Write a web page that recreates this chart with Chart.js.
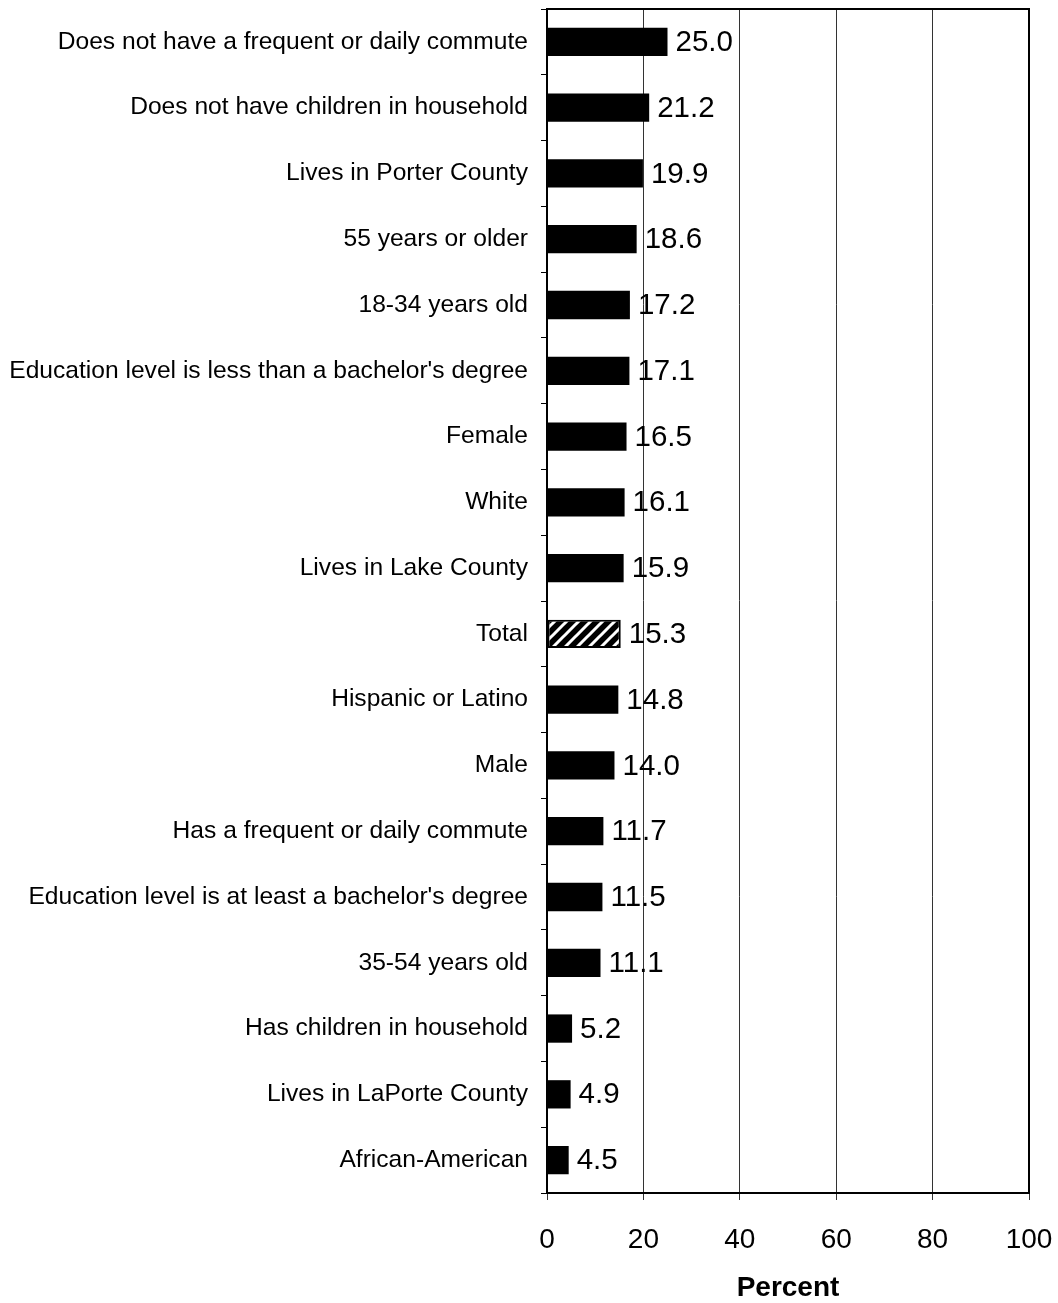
<!DOCTYPE html>
<html lang="en">
<head>
  <meta charset="UTF-8">
  <title>Percent by group</title>
  <script src="https://cdn.jsdelivr.net/npm/chart.js"></script>
  <style>
    body { margin: 0; background: #fff; }
    canvas { display: block; }
  </style>
</head>
<body>
  <canvas id="barChart" width="1058" height="1303"></canvas>

  <script>
    const categories = [
      'Does not have a frequent or daily commute',
      'Does not have children in household',
      'Lives in Porter County',
      '55 years or older',
      '18-34 years old',
      "Education level is less than a bachelor's degree",
      'Female',
      'White',
      'Lives in Lake County',
      'Total',
      'Hispanic or Latino',
      'Male',
      'Has a frequent or daily commute',
      "Education level is at least a bachelor's degree",
      '35-54 years old',
      'Has children in household',
      'Lives in LaPorte County',
      'African-American'
    ];
    const percents = [25.0, 21.2, 19.9, 18.6, 17.2, 17.1, 16.5, 16.1, 15.9, 15.3, 14.8, 14.0, 11.7, 11.5, 11.1, 5.2, 4.9, 4.5];
    const xTicks = [0, 20, 40, 60, 80, 100];
    const totalLabel = 'Total';

    const FONT = '"Liberation Sans", Arial, sans-serif';

    // white diagonal stripes on black for the Total bar
    function makeHatch() {
      const c = document.createElement('canvas');
      c.width = 12; c.height = 12;
      const g = c.getContext('2d');
      g.fillStyle = '#000';
      g.fillRect(0, 0, 12, 12);
      g.strokeStyle = '#fff';
      g.lineWidth = 3;
      g.beginPath();
      g.moveTo(-3, 15); g.lineTo(15, -3);
      g.moveTo(-9, 9); g.lineTo(9, -9);
      g.moveTo(3, 21); g.lineTo(21, 3);
      g.stroke();
      return g.createPattern(c, 'repeat');
    }
    const hatch = makeHatch();

    const colors = categories.map(c => c === totalLabel ? hatch : '#000');
    const borders = categories.map(c => c === totalLabel ? 2 : 0);

    const frame = {
      id: 'frame',
      afterDraw(chart) {
        const { ctx, chartArea: a } = chart;
        ctx.save();
        ctx.strokeStyle = '#000';
        ctx.lineWidth = 2;
        ctx.strokeRect(a.left, a.top, a.right - a.left, a.bottom - a.top);
        ctx.restore();
      }
    };

    const valueLabels = {
      id: 'valueLabels',
      afterDatasetsDraw(chart) {
        const { ctx } = chart;
        const meta = chart.getDatasetMeta(0);
        ctx.save();
        ctx.fillStyle = '#000';
        ctx.font = '29.5px ' + FONT;
        ctx.textAlign = 'left';
        ctx.textBaseline = 'middle';
        meta.data.forEach((bar, i) => {
          ctx.fillText(percents[i].toFixed(1), bar.x + 8, bar.y + 1);
        });
        ctx.restore();
      }
    };

    new Chart(document.getElementById('barChart'), {
      type: 'bar',
      data: {
        labels: categories,
        datasets: [{
          data: percents,
          backgroundColor: colors,
          borderColor: '#000',
          borderWidth: borders,
          borderSkipped: false,
          barPercentage: 0.43,
          categoryPercentage: 1
        }]
      },
      options: {
        indexAxis: 'y',
        responsive: false,
        animation: false,
        devicePixelRatio: 1,
        layout: { padding: { top: 9, right: 29, left: 0, bottom: 0 } },
        plugins: {
          legend: { display: false },
          tooltip: { enabled: false }
        },
        scales: {
          x: {
            min: 0,
            max: 100,
            afterBuildTicks(scale) {
              scale.ticks = xTicks.map(v => ({ value: v }));
            },
            afterFit(scale) {
              scale.height = 110;
              scale.paddingLeft = 0;
              scale.paddingRight = 0;
            },
            grid: { color: '#333', lineWidth: 1, tickLength: 7 },
            border: { color: '#000', width: 2 },
            ticks: {
              color: '#000',
              padding: 23,
              font: { family: FONT, size: 28 }
            },
            title: {
              display: true,
              text: 'Percent',
              color: '#000',
              padding: { top: 0, bottom: -2 },
              font: { family: FONT, size: 28, weight: 'bold' }
            }
          },
          y: {
            afterFit(scale) {
              scale.width = 547;
              scale.paddingTop = 0;
              scale.paddingBottom = 0;
            },
            grid: { drawOnChartArea: false, color: '#000', tickLength: 6 },
            border: { color: '#000', width: 2 },
            ticks: {
              color: '#000',
              padding: 13,
              autoSkip: false,
              font: { family: FONT, size: 24.6 }
            }
          }
        }
      },
      plugins: [frame, valueLabels]
    });
  </script>
</body>
</html>
